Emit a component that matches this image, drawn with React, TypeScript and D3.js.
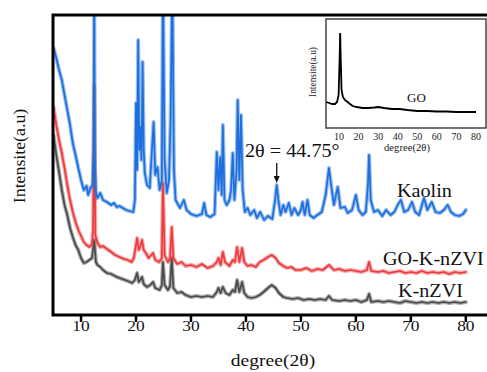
import React from "react";
import * as d3 from "d3";

// ---- data ----
const xTicks = [10, 20, 30, 40, 50, 60, 70, 80];
const insetTicks = [10, 20, 30, 40, 50, 60, 70, 80];

const kaolin: [number, number][] = [
  [5.0, 267], [5.5, 257], [6.0, 245], [6.5, 235], [7.0, 220], [7.5, 205], [8.0, 190], [8.5, 172],
  [9.0, 160], [9.5, 147], [10.0, 135], [10.5, 125], [11.0, 129], [11.3, 120], [11.7, 127], [12.1, 130],
  [12.3, 165], [12.4, 340], [12.5, 155], [12.7, 123], [13.0, 117], [13.5, 122], [14.0, 115], [14.7, 113],
  [15.5, 110], [16.0, 112], [16.5, 108], [17.0, 109], [17.6, 107], [18.2, 105], [18.8, 104], [19.5, 103],
  [19.8, 115], [20.0, 212], [20.2, 145], [20.4, 275], [20.6, 165], [20.8, 188], [21.0, 155], [21.2, 253],
  [21.4, 165], [21.6, 142], [22.0, 130], [22.5, 127], [23.2, 193], [23.5, 140], [23.9, 148], [24.3, 125],
  [24.7, 135], [24.9, 340], [25.2, 155], [25.6, 122], [26.0, 135], [26.3, 195], [26.6, 340], [26.9, 145],
  [27.2, 115], [28.0, 107], [28.7, 115], [29.2, 105], [30.0, 101], [31.0, 99], [32.0, 101], [32.4, 112],
  [32.8, 100], [33.5, 98], [34.3, 101], [34.7, 163], [35.0, 125], [35.3, 158], [35.6, 120], [35.8, 190],
  [36.1, 115], [36.5, 110], [37.0, 115], [37.3, 125], [37.6, 162], [37.9, 115], [38.3, 145], [38.5, 215],
  [38.8, 135], [39.1, 200], [39.4, 125], [39.8, 103], [40.3, 107], [40.8, 100], [41.5, 105], [42.0, 97],
  [42.6, 103], [43.3, 95], [44.0, 99], [44.8, 96], [45.3, 115], [45.6, 130], [45.9, 115], [46.3, 100],
  [46.8, 110], [47.2, 103], [47.8, 112], [48.3, 100], [48.8, 107], [49.5, 100], [50.0, 105], [50.3, 113],
  [50.7, 100], [51.2, 115], [51.6, 100], [52.3, 97], [53.0, 100], [53.8, 103], [54.5, 120], [55.1, 147],
  [55.5, 130], [56.0, 110], [56.7, 128], [57.2, 107], [58.0, 108], [58.5, 102], [59.3, 105], [60.0, 120],
  [60.5, 105], [61.2, 100], [61.8, 103], [62.2, 130], [62.4, 160], [62.7, 115], [63.3, 103], [64.0, 105],
  [64.8, 99], [65.5, 105], [66.3, 100], [67.0, 103], [67.6, 110], [68.2, 115], [68.8, 103], [69.5, 105],
  [70.2, 113], [70.8, 103], [71.5, 100], [72.4, 117], [73.0, 105], [73.8, 113], [74.5, 103], [75.3, 102],
  [76.0, 105], [76.7, 110], [77.3, 103], [78.0, 100], [78.8, 99], [79.5, 101], [80.0, 105],
];

const goKnzvi: [number, number][] = [
  [5.0, 208], [5.5, 190], [6.0, 175], [6.5, 162], [7.0, 147], [7.5, 130], [8.0, 115], [8.5, 103],
  [9.0, 93], [9.5, 85], [10.0, 79], [10.5, 73], [11.0, 70], [11.5, 68], [12.0, 71], [12.2, 85],
  [12.4, 230], [12.6, 80], [13.0, 72], [13.5, 68], [14.0, 69], [14.7, 66], [15.5, 63], [16.2, 60],
  [17.0, 58], [17.8, 56], [18.5, 55], [19.2, 53], [19.6, 57], [20.0, 70], [20.2, 77], [20.5, 65],
  [20.8, 69], [21.1, 75], [21.4, 65], [21.8, 62], [22.3, 57], [23.1, 62], [23.5, 55], [24.2, 53],
  [24.7, 57], [24.9, 132], [25.2, 60], [25.8, 53], [26.2, 57], [26.5, 88], [26.8, 57], [27.5, 51],
  [28.3, 53], [29.0, 49], [30.0, 50], [31.0, 48], [32.0, 51], [33.0, 47], [34.0, 49], [34.7, 53],
  [35.0, 57], [35.4, 50], [35.8, 63], [36.2, 53], [37.0, 49], [37.6, 55], [38.0, 53], [38.4, 68],
  [38.8, 53], [39.3, 67], [39.7, 53], [40.3, 49], [41.0, 50], [41.8, 48], [42.5, 53], [43.2, 55],
  [44.0, 58], [44.7, 60], [45.4, 57], [46.0, 52], [46.8, 49], [47.5, 47], [48.3, 48], [49.0, 45],
  [50.0, 45], [51.0, 47], [52.0, 44], [53.0, 46], [54.0, 45], [55.1, 50], [56.0, 45], [57.0, 46],
  [58.0, 44], [59.0, 45], [60.0, 44], [61.0, 43], [62.0, 45], [62.4, 53], [62.8, 44], [64.0, 43],
  [65.0, 44], [66.0, 42], [67.0, 43], [68.0, 44], [69.0, 42], [70.0, 43], [71.0, 42], [72.0, 44],
  [73.0, 42], [74.0, 43], [75.0, 42], [76.0, 43], [77.0, 41], [78.0, 43], [79.0, 42], [80.0, 43],
];

const knzvi: [number, number][] = [
  [5.0, 180], [5.5, 160], [6.0, 143], [6.5, 125], [7.0, 110], [7.5, 100], [8.0, 87], [8.5, 78],
  [9.0, 70], [9.5, 65], [10.0, 57], [10.5, 52], [11.0, 53], [11.5, 55], [12.0, 57], [12.4, 75],
  [12.7, 53], [13.0, 50], [13.5, 48], [14.0, 45], [14.7, 42], [15.5, 41], [16.5, 38], [17.5, 36],
  [18.5, 34], [19.3, 32], [19.8, 35], [20.2, 42], [20.5, 33], [20.8, 35], [21.1, 38], [21.4, 31],
  [22.0, 28], [22.6, 30], [23.1, 33], [23.5, 27], [24.3, 25], [24.7, 30], [24.9, 53], [25.2, 30],
  [25.8, 25], [26.2, 29], [26.5, 57], [26.8, 27], [27.5, 22], [28.3, 23], [29.0, 20], [30.0, 18],
  [31.0, 19], [32.0, 18], [33.0, 19], [34.0, 18], [34.7, 23], [35.0, 27], [35.4, 22], [35.8, 28],
  [36.3, 22], [37.0, 20], [37.6, 25], [38.0, 23], [38.4, 35], [38.8, 23], [39.3, 33], [39.7, 22],
  [40.3, 18], [41.0, 17], [41.8, 18], [42.5, 20], [43.2, 23], [44.0, 27], [44.7, 30], [45.4, 27],
  [46.0, 22], [46.8, 18], [47.5, 17], [48.5, 16], [49.5, 17], [50.5, 15], [51.5, 16], [52.5, 15],
  [53.5, 16], [54.5, 15], [55.1, 19], [55.7, 15], [57.0, 14], [58.0, 15], [59.0, 14], [60.0, 15],
  [61.0, 13], [62.0, 15], [62.4, 21], [62.8, 13], [64.0, 14], [65.0, 13], [66.0, 14], [67.0, 13],
  [68.0, 12], [69.0, 14], [70.0, 13], [71.0, 12], [72.0, 13], [73.0, 12], [74.0, 13], [75.0, 12],
  [76.0, 13], [77.0, 12], [78.0, 13], [79.0, 12], [80.0, 13],
];

const go: [number, number][] = [
  [3.5, 26], [5, 25], [6.5, 24], [8, 24], [9, 26], [9.8, 33], [10.3, 68], [10.6, 95], [10.9, 68],
  [11.3, 38], [12, 31], [13, 28], [15, 25], [17, 22], [19, 21], [22, 20], [25, 20], [28, 20.5],
  [30, 21], [33, 20], [37, 19], [41, 19], [45, 18], [50, 17], [55, 17], [60, 16.5], [65, 16.5],
  [70, 16], [75, 16], [80, 16],
];

const peakMark = 45.6;
const seriesLabels = ["Kaolin", "GO-K-nZVI", "K-nZVI"];
const seriesColors = ["#1c6fdc", "#ec3b3f", "#4a4a4a"];

const SERIF = "Liberation Serif, Times New Roman, serif";
const SX = 1.12; // horizontal stretch seen in the reference's lettering

function SText(props: { x: number; y: number; size: number; anchor?: string; fill?: string; children: React.ReactNode }) {
  const { x, y, size, anchor = "start", fill = "#111", children } = props;
  return (
    <text transform={`translate(${x},${y}) scale(${SX},1)`} fontSize={size} textAnchor={anchor} fill={fill}>
      {children}
    </text>
  );
}

export default function App() {
  const W = 487, H = 372;
  const x = d3.scaleLinear().domain([4.9, 84.4]).range([53, 490]);
  const y = d3.scaleLinear().domain([0, 300]).range([315, 15]);
  const line = d3.line<[number, number]>().x(d => x(d[0])).y(d => y(d[1]));

  const ix = d3.scaleLinear().domain([3.36, 85.1]).range([326, 486]);
  const iy = d3.scaleLinear().domain([0, 109]).range([128, 19]);
  const iline = d3.line<[number, number]>().x(d => ix(d[0])).y(d => iy(d[1]));

  const series: [number, number][][] = [kaolin, goKnzvi, knzvi];
  const order = [2, 1, 0];

  return (
    <svg width={W} height={H} style={{ position: "absolute", left: 0, top: 0, background: "#fff" }}
      fontFamily={SERIF}>
      <defs>
        <clipPath id="plotClip">
          <rect x={53} y={15} width={440} height={300} />
        </clipPath>
      </defs>
      <rect x={0} y={0} width={W} height={H} fill="#fff" />

      <g clipPath="url(#plotClip)" fill="none" strokeLinejoin="round" strokeLinecap="round">
        {order.map(i => (
          <g key={i}>
            <path d={line(series[i]) || ""} stroke={seriesColors[i]} strokeWidth={4} strokeOpacity={0.45} />
            <path d={line(series[i]) || ""} stroke={seriesColors[i]} strokeWidth={1.7} />
          </g>
        ))}
      </g>

      <rect x={53} y={15} width={437} height={300} fill="none" stroke="#000" strokeWidth={3} />

      {xTicks.map(t => (
        <g key={t}>
          <line x1={x(t)} x2={x(t)} y1={316} y2={322} stroke="#000" strokeWidth={2.5} />
          <SText x={x(t)} y={331} size={15.5} anchor="middle">{t}</SText>
        </g>
      ))}
      <SText x={273} y={366} size={17.5} anchor="middle">degree(2θ)</SText>
      <text transform="translate(25,156) rotate(-90) scale(1.08,1)" fontSize={16.5} textAnchor="middle" fill="#111">Intensite(a.u)</text>

      <SText x={397} y={197} size={18}>{seriesLabels[0]}</SText>
      <SText x={383} y={265} size={18}>{seriesLabels[1]}</SText>
      <SText x={398} y={297} size={18}>{seriesLabels[2]}</SText>

      <SText x={245} y={157} size={18}>2θ = 44.75°</SText>
      <line x1={x(peakMark)} x2={x(peakMark)} y1={163} y2={177} stroke="#111" strokeWidth={1.3} />
      <path d={`M${x(peakMark) - 3},176 L${x(peakMark) + 3},176 L${x(peakMark)},183 Z`} fill="#111" />

      <rect x={326} y={19} width={160} height={109} fill="#fff" stroke="#444" strokeWidth={1.5} />
      <path d={iline(go) || ""} fill="none" stroke="#000" strokeWidth={1.8} />
      {insetTicks.map(t => (
        <text key={t} x={ix(t)} y={140} fontSize={10} textAnchor="middle" fill="#222">{t}</text>
      ))}
      <text x={407} y={151} fontSize={9.5} textAnchor="middle" textLength={46} lengthAdjust="spacingAndGlyphs" fill="#222">degree(2θ)</text>
      <text transform="translate(316,72) rotate(-90)" fontSize={9.5} textAnchor="middle" textLength={50} lengthAdjust="spacingAndGlyphs" fill="#222">Intensite(a.u)</text>
      <text x={407} y={102} fontSize={13} fill="#111">GO</text>
    </svg>
  );
}
